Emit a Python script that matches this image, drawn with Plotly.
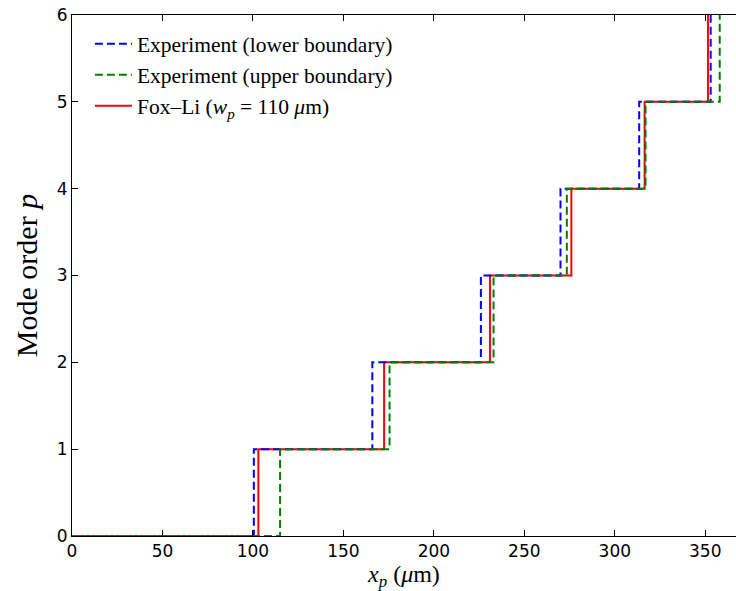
import plotly.graph_objects as go

# Step positions (x_p in µm) where mode order increments
levels = [0, 1, 2, 3, 4, 5, 6]
lower_x = [0, 100.5, 166, 226, 270, 313.5, 353]
upper_x = [0, 115, 175.5, 233, 273.5, 317, 358]
foxli_x = [0, 103, 172.5, 231, 276, 316.5, 351.5]

serif = "Liberation Serif"
sans = "DejaVu Sans"

fig = go.Figure()
fig.add_trace(go.Scatter(x=foxli_x, y=levels, mode="lines", line_shape="hv",
                         line=dict(color="#ff0000", width=2),
                         name="Fox–Li (<i>w<sub>p</sub></i> = 110 <i>μ</i>m)", legendrank=3))
fig.add_trace(go.Scatter(x=lower_x, y=levels, mode="lines", line_shape="hv",
                         line=dict(color="#0000ff", width=2, dash="8px,4px"),
                         name="Experiment (lower boundary)", legendrank=1))
fig.add_trace(go.Scatter(x=upper_x, y=levels, mode="lines", line_shape="hv",
                         line=dict(color="#008000", width=2, dash="8px,4px"),
                         name="Experiment (upper boundary)", legendrank=2))

fig.update_layout(
    width=736, height=591,
    margin=dict(l=72, r=0, t=15, b=55, autoexpand=False),
    plot_bgcolor="white", paper_bgcolor="white",
    showlegend=True,
    legend=dict(x=0.027, y=0.984, xanchor="left", yanchor="top",
                bgcolor="rgba(0,0,0,0)", font=dict(family=serif, size=21.5, color="black"),
                tracegroupgap=0, itemwidth=37),
    xaxis=dict(range=[0, 367], tickvals=[0, 50, 100, 150, 200, 250, 300, 350],
               ticks="inside", ticklen=6, tickcolor="black", showline=True, linecolor="black",
               linewidth=1, mirror="ticks", showgrid=False, zeroline=False, automargin=False,
               tickfont=dict(family=sans, size=17, color="black"),
               title=dict(text="<i>x<sub>p</sub></i> (<i>μ</i>m)", font=dict(family=serif, size=24, color="black"),
                          standoff=5)),
    yaxis=dict(range=[0, 6], tickvals=[0, 1, 2, 3, 4, 5, 6],
               ticks="inside", ticklen=6, tickcolor="black", showline=True, linecolor="black",
               linewidth=1, mirror=False, showgrid=False, zeroline=False, automargin=False,
               ticklabeloverflow="allow",
               tickfont=dict(family=sans, size=17, color="black"),
               title=dict(text="Mode order <i>p</i>", font=dict(family=serif, size=30, color="black"),
                          standoff=10)),
)

# remove the page's default body margin so the figure fills the 736x591 window exactly
fig.write_html("out.html", config={"displayModeBar": False},
               post_script="document.body.style.margin='0';")
